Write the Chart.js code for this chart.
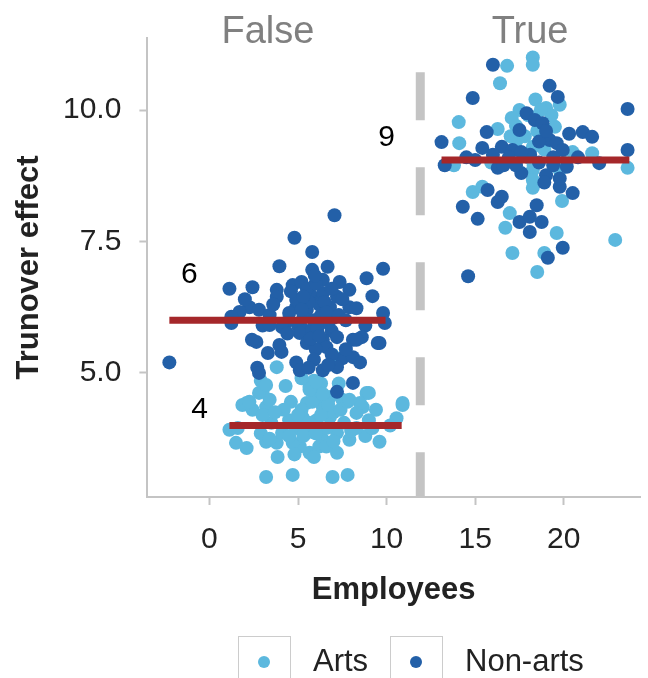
<!DOCTYPE html>
<html>
<head>
<meta charset="utf-8">
<script src="https://cdn.jsdelivr.net/npm/chart.js@4.4.1/dist/chart.umd.min.js"></script>
<style>
  html, body { margin: 0; padding: 0; background: #fff; }
  #wrap { width: 648px; height: 678px; }
</style>
</head>
<body>
<div id="wrap"><canvas id="chart"></canvas></div>
<script>
// points: [employees, turnover effect]
const nonArtsFalse = [
  [7.06, 8.0], [4.8, 7.57], [5.8, 7.3], [3.95, 7.03], [5.8, 6.96], [6.67, 7.02], [9.8, 6.98], [8.87, 6.8],
  [1.13, 6.6], [2.43, 6.63], [3.8, 6.58], [3.8, 6.45], [4.7, 6.67], [5.2, 6.73], [6.4, 6.77], [7.35, 6.73],
  [7.9, 6.58], [9.2, 6.46], [2.26, 6.25], [2.8, 6.2], [1.7, 6.16], [4.9, 6.25], [6.0, 6.39], [6.8, 6.25],
  [7.9, 6.25], [8.3, 6.23], [9.8, 6.14], [1.24, 6.07], [3.4, 6.1], [4.5, 6.14], [5.5, 6.2], [6.4, 6.52],
  [7.2, 6.45], [5.65, 6.52], [4.9, 6.39], [5.3, 6.05], [5.9, 6.0], [6.3, 6.1], [6.7, 5.95], [7.0, 6.05],
  [5.0, 5.9], [4.3, 5.95], [3.0, 5.9], [8.8, 5.9], [6.2, 6.3], [5.6, 6.35], [7.5, 6.4], [5.4, 5.8],
  [6.9, 5.8], [-2.26, 5.2], [1.24, 5.95], [2.65, 5.59], [3.3, 5.38], [4.07, 5.4], [2.7, 5.1], [2.8, 5.0],
  [4.1, 5.87], [5.1, 5.76], [5.5, 5.57], [5.8, 5.82], [6.4, 5.63], [6.6, 5.49], [7.2, 5.68], [7.5, 5.28],
  [8.1, 5.63], [8.6, 5.68], [8.1, 5.3], [9.5, 5.57], [4.9, 5.2], [5.1, 5.05], [6.4, 5.05], [7.2, 5.11],
  [8.1, 4.81], [9.9, 5.95], [7.2, 4.64], [3.4, 5.91], [2.4, 5.63], [3.95, 5.53], [8.3, 5.63], [9.6, 5.57],
  [6.0, 5.45], [5.9, 5.25], [6.9, 5.35], [5.5, 6.6], [6.0, 6.7], [5.3, 6.45], [6.5, 6.35], [6.1, 5.85],
  [5.7, 5.65], [6.6, 6.15], [5.2, 6.2], [7.3, 6.1], [6.2, 5.7], [4.6, 6.55], [7.7, 6.0], [4.4, 5.75],
  [3.6, 6.3], [2.0, 6.4], [5.95, 6.85], [6.9, 6.6], [6.7, 5.15], [5.6, 5.1], [7.7, 5.45], [8.5, 5.2]
]
const artsFalse = [
  [1.86, 4.39], [2.43, 4.3], [3.2, 4.35], [1.13, 3.92], [1.5, 3.67], [2.1, 3.57], [3.2, 3.69], [3.8, 3.67],
  [3.85, 3.4], [3.2, 3.02], [4.7, 3.06], [6.95, 3.02], [7.8, 3.06], [4.5, 4.1], [5.25, 4.16], [5.5, 3.86],
  [5.65, 3.48], [5.1, 3.6], [6.4, 4.35], [6.8, 4.16], [7.2, 3.86], [7.2, 3.48], [7.9, 3.73], [8.65, 4.35],
  [9.0, 4.1], [9.6, 3.69], [10.56, 4.14], [10.9, 4.39], [8.3, 4.24], [6.05, 4.1], [4.1, 3.86], [4.7, 3.67],
  [6.4, 3.73], [2.1, 4.43], [3.0, 4.64], [3.4, 4.49], [5.65, 4.73], [6.05, 4.54], [6.8, 4.54], [7.5, 4.49],
  [8.87, 4.62], [8.5, 4.43], [10.9, 4.43], [5.5, 4.43], [3.8, 5.11], [6.95, 5.34], [5.2, 4.9], [5.9, 4.0],
  [6.6, 3.95], [4.9, 3.95], [5.2, 4.3], [7.6, 4.05], [8.0, 3.9], [3.5, 4.05], [2.9, 3.85], [6.2, 3.6],
  [7.0, 4.25], [6.0, 4.6], [4.6, 4.45], [9.4, 4.3], [10.2, 4.0], [8.8, 3.8], [3.0, 4.2], [1.6, 3.95],
  [2.9, 4.85], [7.3, 4.8], [6.3, 4.8], [4.3, 4.75], [5.9, 4.85], [5.0, 4.2], [5.6, 4.05], [6.3, 4.2],
  [6.7, 4.4], [5.3, 3.8], [6.0, 3.85], [6.6, 3.6], [5.9, 3.4], [4.5, 3.8], [4.2, 4.3], [3.7, 4.25],
  [7.4, 4.3], [7.8, 4.45], [9.2, 3.95], [8.3, 3.95], [5.8, 4.45], [6.4, 4.6], [7.0, 3.7], [4.8, 3.45],
  [3.4, 3.75], [2.26, 4.45], [2.8, 4.62], [3.2, 4.77], [5.65, 4.68], [6.0, 4.83], [9.0, 4.62], [7.9, 4.49]
]
const nonArtsTrue = [
  [16.0, 10.86], [19.2, 10.46], [14.86, 10.23], [19.66, 10.25], [17.9, 9.94], [23.6, 10.02], [18.36, 9.81],
  [18.8, 9.75], [15.65, 9.58], [17.5, 9.62], [21.07, 9.58], [21.6, 9.49], [13.1, 9.39], [15.4, 9.28],
  [16.5, 9.3], [19.2, 9.43], [19.6, 9.37], [19.94, 9.24], [23.6, 9.24], [17.1, 9.24], [13.28, 8.95],
  [16.27, 8.9], [17.6, 8.8], [19.0, 8.76], [20.17, 8.92], [22.0, 8.99], [19.77, 8.54], [20.5, 8.42],
  [15.7, 8.48], [16.5, 8.35], [16.27, 8.25], [14.3, 8.16], [18.47, 8.19], [15.14, 7.93], [17.5, 7.87],
  [18.08, 7.97], [18.75, 7.87], [18.08, 7.68], [19.94, 7.38], [19.1, 7.19], [14.6, 6.84], [15.0, 9.05],
  [16.9, 9.1], [18.6, 9.0], [19.4, 9.1], [17.3, 8.95], [20.8, 9.1], [14.5, 9.1], [18.1, 9.15], [16.0, 9.15],
  [19.77, 8.7], [18.9, 8.62], [18.6, 9.4], [17.6, 9.2], [19.0, 9.6], [19.4, 8.95], [16.6, 8.95], [20.3, 9.55]
]
const artsTrue = [
  [16.8, 10.84], [18.25, 11.0], [18.25, 10.86], [16.4, 10.51], [19.77, 10.1], [19.0, 10.04], [17.5, 10.0],
  [17.06, 9.85], [19.5, 9.68], [14.07, 9.77], [16.27, 9.64], [14.1, 9.37], [17.34, 9.43], [18.25, 9.3],
  [21.6, 9.18], [20.5, 9.2], [18.25, 8.86], [19.77, 8.86], [23.6, 8.9], [18.25, 8.52], [14.86, 8.44],
  [15.4, 8.54], [16.95, 8.04], [19.9, 8.27], [16.7, 7.76], [19.6, 7.66], [22.9, 7.53], [17.1, 7.28],
  [18.9, 7.28], [18.5, 6.92], [18.25, 8.67], [18.5, 9.6], [17.8, 9.5], [15.9, 9.0], [20.0, 9.0],
  [18.4, 10.2], [19.3, 9.9], [18.0, 9.1], [13.8, 8.95], [18.9, 9.25], [17.3, 9.7], [18.0, 9.9],
  [18.3, 8.95], [17.0, 9.5], [18.7, 10.0]
]

// group means (red bars) and their labels
const meanValues = [6, 4, 9.05]
const meanFrom = [-2.26, 1.13, 13.1]
const meanTo = [9.94, 10.85, 23.7]
const meanLabels = ["6", "4", "9"]
const meanLabelX = [-1.13, -0.56, 10.0]
const meanLabelY = [6.86, 4.3, 9.47]

// facet headers and divider
const facetNames = ["False", "True"]
const facetCenters = [3.3, 18.1]
const dividerX = 11.9
const dividerTop = 10.72

const xTicks = [0, 5, 10, 15, 20]
const yTicks = [5, 7.5, 10]
const xMin = -3.5, xMax = 24.3
const yMin = 2.64, yMax = 11.37

const artsColor = "#5cb8de"
const nonArtsColor = "#2360a8"
const meanColor = "#a5272a"
const axisColor = "#c4c4c4"

Chart.defaults.font.family = "'Liberation Sans', Arial, sans-serif"

const toPoints = (pairs) => pairs.map(([x, y]) => ({ x, y }))

const meanDatasets = meanValues.map((v, i) => ({
  label: "mean " + meanLabels[i],
  data: [{ x: meanFrom[i], y: v }, { x: meanTo[i], y: v }],
  showLine: true,
  borderColor: meanColor,
  borderWidth: 7,
  borderCapStyle: "butt",
  pointRadius: 0,
  order: 0
}))

const overlayPlugin = {
  id: "overlay",
  afterDatasetsDraw(chart) {
    const { ctx, scales: { x, y } } = chart
    ctx.save()
    ctx.textAlign = "center"

    ctx.font = "38px 'Liberation Sans', Arial, sans-serif"
    ctx.fillStyle = "#808080"
    ctx.textBaseline = "alphabetic"
    facetNames.forEach((name, i) => {
      ctx.fillText(name, x.getPixelForValue(facetCenters[i]), 43)
    })

    ctx.font = "30px 'Liberation Sans', Arial, sans-serif"
    ctx.fillStyle = "#000"
    ctx.textBaseline = "middle"
    meanLabels.forEach((t, i) => {
      ctx.fillText(t, x.getPixelForValue(meanLabelX[i]), y.getPixelForValue(meanLabelY[i]))
    })
    ctx.restore()
  },
  afterDraw(chart) {
    // legend: framed marker then label
    const { ctx } = chart
    const items = chart.data.datasets.filter(d => d.inLegend)
    const boxLefts = [238, 390]
    ctx.save()
    items.forEach((d, i) => {
      const bx = boxLefts[i]
      ctx.strokeStyle = "#cccccc"
      ctx.lineWidth = 1
      ctx.strokeRect(bx + 0.5, 636.5, 52, 60)
      ctx.fillStyle = d.backgroundColor
      ctx.beginPath()
      ctx.arc(bx + 26, 662, 6, 0, Math.PI * 2)
      ctx.fill()
      ctx.font = "31px 'Liberation Sans', Arial, sans-serif"
      ctx.fillStyle = "#222"
      ctx.textAlign = "left"
      ctx.textBaseline = "middle"
      ctx.fillText(d.label, bx + 75, 662)
    })
    ctx.restore()
  }
}

new Chart(document.getElementById("chart"), {
  type: "scatter",
  data: {
    datasets: [
      ...meanDatasets,
      {
        label: "divider",
        data: [{ x: dividerX, y: dividerTop }, { x: dividerX, y: yMin }],
        showLine: true,
        borderColor: axisColor,
        borderWidth: 9,
        borderDash: [48, 47],
        borderCapStyle: "butt",
        pointRadius: 0,
        order: 1
      },
      {
        label: "Arts",
        inLegend: true,
        data: toPoints(artsFalse.concat(artsTrue)),
        backgroundColor: artsColor,
        borderWidth: 0,
        pointRadius: 7,
        order: 3
      },
      {
        label: "Non-arts",
        inLegend: true,
        data: toPoints(nonArtsFalse.concat(nonArtsTrue)),
        backgroundColor: nonArtsColor,
        borderWidth: 0,
        pointRadius: 7,
        order: 2
      }
    ]
  },
  options: {
    responsive: true,
    maintainAspectRatio: false,
    animation: false,
    layout: { padding: { top: 38, right: 8, left: 8, bottom: 72 } },
    plugins: {
      legend: { display: false },
      tooltip: { enabled: false }
    },
    scales: {
      x: {
        type: "linear",
        min: xMin,
        max: xMax,
        afterBuildTicks: (s) => { s.ticks = xTicks.map(v => ({ value: v })) },
        grid: { drawOnChartArea: false, color: axisColor, tickLength: 8, tickWidth: 2 },
        border: { color: axisColor, width: 2 },
        ticks: { color: "#222", font: { size: 30 }, padding: 17, maxRotation: 0 },
        title: {
          display: true, text: "Employees", color: "#222",
          font: { size: 31, weight: "bold", lineHeight: 1 }, padding: { top: 0, bottom: 0 }
        }
      },
      y: {
        type: "linear",
        min: yMin,
        max: yMax,
        afterBuildTicks: (s) => { s.ticks = yTicks.map(v => ({ value: v })) },
        grid: { drawOnChartArea: false, color: axisColor, tickLength: 8, tickWidth: 2 },
        border: { color: axisColor, width: 2 },
        ticks: { color: "#222", font: { size: 30 }, padding: 18, callback: (v) => v.toFixed(1) },
        title: {
          display: true, text: "Trunover effect", color: "#222",
          font: { size: 31, weight: "bold", lineHeight: 1 }, padding: { top: 6, bottom: 0 }
        }
      }
    }
  },
  plugins: [overlayPlugin]
})
</script>
</body>
</html>
